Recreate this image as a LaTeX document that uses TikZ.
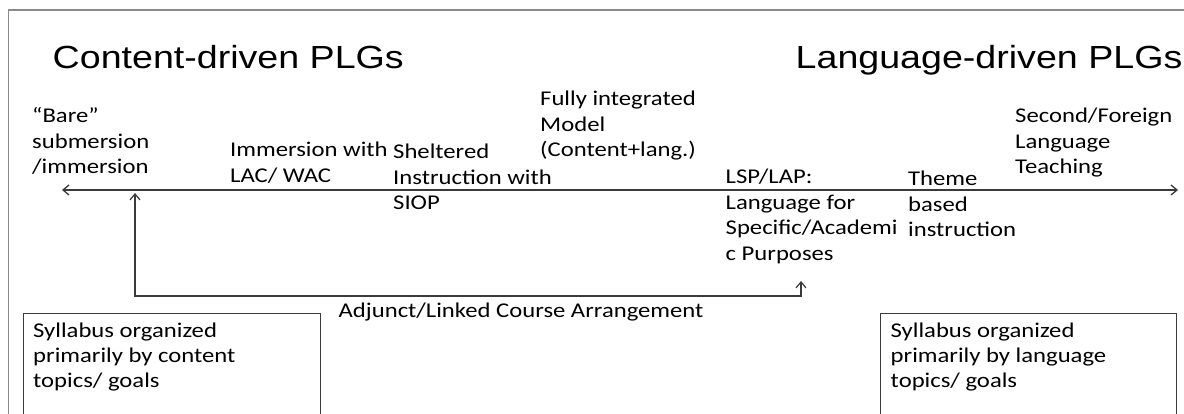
\documentclass[tikz,border=0pt]{standalone}
\usepackage{fontspec}
\setmainfont{Carlito}[FakeStretch=1.175]
\newfontfamily\headfont{Liberation Sans}[FakeStretch=1.175]
\usetikzlibrary{arrows.meta}
% several left-aligned lines whose baseline is that of the first line
\newcommand{\txtlines}[1]{\begin{tabular}[t]{@{}l@{}}#1\end{tabular}}
\definecolor{lineclr}{HTML}{3A3A3A}
\definecolor{frameclr}{HTML}{8A8A8A}
\begin{document}
\begin{tikzpicture}[x=1pt,y=-1pt,
  lbl/.style={anchor=base west, inner sep=0pt, font=\fontsize{21}{25.5}\selectfont},
  head/.style={anchor=base west, inner sep=0pt, font=\headfont\fontsize{32}{38}\selectfont},
  axis/.style={draw=lineclr, line width=1.3pt, arrows={Straight Barb[length=6pt,width=10pt]-Straight Barb[length=6pt,width=10pt]}},
  link/.style={draw=lineclr, line width=1.2pt, arrows={Straight Barb[length=6pt,width=10pt]-Straight Barb[length=6pt,width=10pt]}},
  sbox/.style={draw=lineclr, line width=1.2pt, anchor=north west, inner sep=0pt, minimum width=297pt, minimum height=130pt},
  frame/.style={draw=frameclr, line width=1.3pt}]
\useasboundingbox (0,0) rectangle (1184,414);
\fill[white] (0,0) rectangle (1184,414);
\clip (0,0) rectangle (1184,414);

% outer frame (left and top sides)
\draw[frame] (8.5,420) -- (8.5,10) -- (1190,10);

% headings
\node[head] (hcontent) at (52.5,69) {Content-driven PLGs};
\node[head] (hlang) at (795.5,69) {Language-driven PLGs};

% the continuum
\coordinate (axL) at (62,190);
\coordinate (axR) at (1178,190);
\draw[axis] (axL) -- (axR);

% models along the continuum
\node[lbl] (bare) at (32,123) {\txtlines{“Bare”\\submersion\\/immersion}};
\node[lbl] (immersion) at (230,157) {\txtlines{Immersion with\\LAC/ WAC}};
\node[lbl] (sheltered) at (393,159) {\txtlines{Sheltered\\Instruction with\\SIOP}};
\node[lbl] (fully) at (540,106) {\txtlines{Fully integrated\\Model\\(Content+lang.)}};
\node[lbl] (lsp) at (725.5,184) {\txtlines{LSP/LAP:\\Language for\\Specific/Academi\\c Purposes}};
\node[lbl] (theme) at (908,186) {\txtlines{Theme\\based\\instruction}};
\node[lbl] (second) at (1015,123) {\txtlines{Second/Foreign\\Language\\Teaching}};

% adjunct / linked course connector
\coordinate (adjL) at (135,193);
\coordinate (adjR) at (801,281);
\coordinate (cornerL) at (135,296);
\coordinate (cornerR) at (801,296);
\draw[link] (adjL) -- (cornerL) -- (cornerR) -- (adjR);
\node[lbl] (adjunct) at (338.5,317) {Adjunct/Linked Course Arrangement};

% syllabus boxes
\node[sbox] (lbox) at (23,313) {};
\node[lbl] (ltext) at (33,337) {\txtlines{Syllabus organized\\primarily by content\\topics/ goals}};
\node[sbox, minimum width=296pt] (rbox) at (880,313) {};
\node[lbl] (rtext) at (890.5,337) {\txtlines{Syllabus organized\\primarily by language\\topics/ goals}};
\end{tikzpicture}
\end{document}
